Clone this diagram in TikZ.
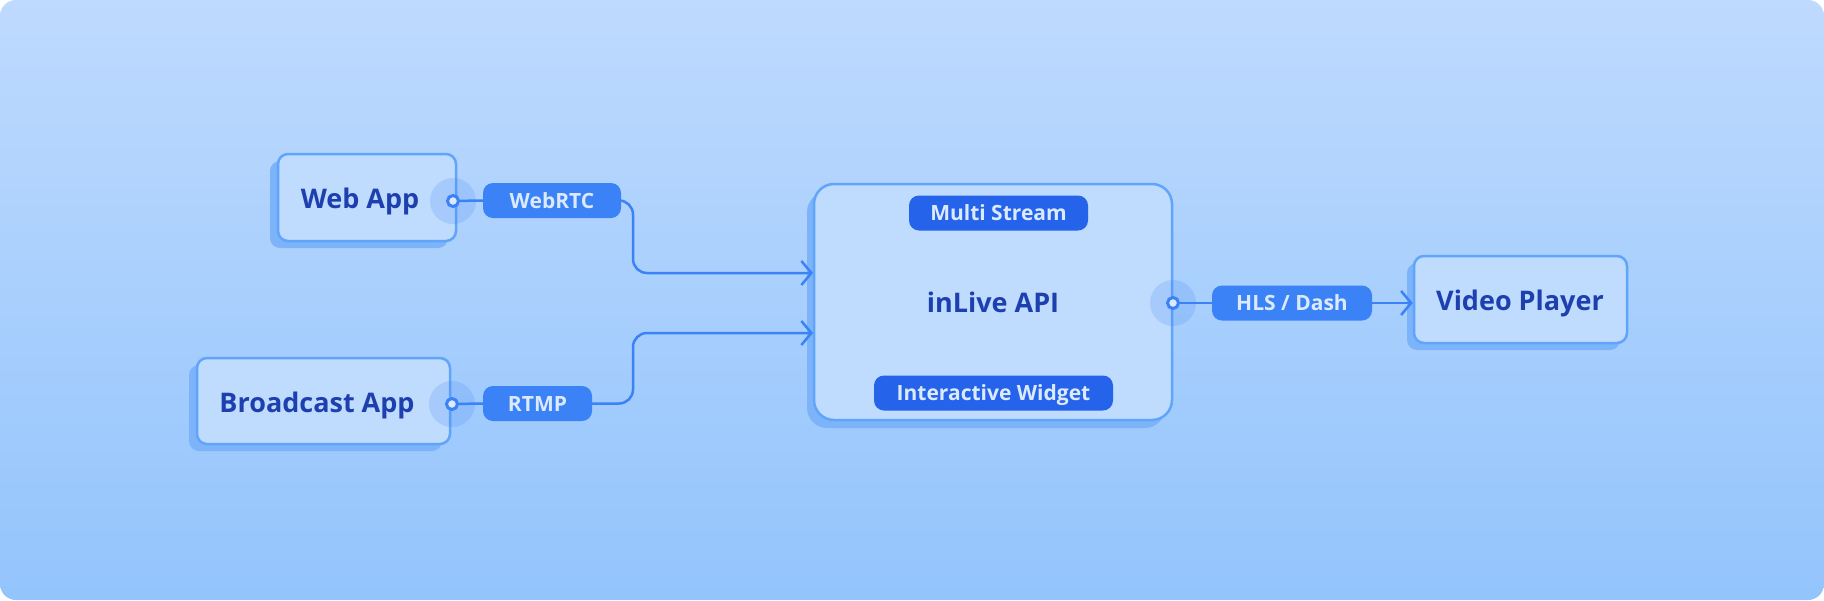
\documentclass[tikz,border=0pt]{standalone}
\usepackage{fontspec}
\setmainfont{Open Sans}
\usetikzlibrary{arrows.meta,calc}
\definecolor{bgtop}{HTML}{BEDAFE}
\definecolor{bgbot}{HTML}{93C4FC}
\definecolor{boxfill}{HTML}{BFDBFE}
\definecolor{boxline}{HTML}{60A5FA}
\definecolor{boxshadow}{HTML}{7CB3F9}
\definecolor{txtdark}{HTML}{1E40AF}
\definecolor{pillA}{HTML}{3B82F6}
\definecolor{pillB}{HTML}{2563EB}
\definecolor{pilltxt}{HTML}{DBEAFE}
\tikzset{
  boxstyle/.style={draw=boxline, line width=2.5pt, fill=boxfill, rounded corners=10pt, inner sep=0pt},
  shadowstyle/.style={fill=boxshadow, rounded corners=10pt, inner sep=0pt},
  labelstyle/.style={text=txtdark, font=\bfseries\fontsize{27}{31}\selectfont, inner sep=0pt, text height=19.3pt, text depth=0pt},
  pillstyle/.style={fill=pillA, rounded corners=10pt, text=pilltxt, font=\bfseries\fontsize{21}{25}\selectfont, minimum height=35pt, inner sep=0pt, text height=15pt, text depth=0pt},
  pilldark/.style={pillstyle, fill=pillB},
  halo/.style={circle, fill=pillA, fill opacity=0.18, minimum size=46pt, inner sep=0pt},
  portstyle/.style={circle, draw=pillA, line width=3pt, fill=pilltxt, minimum size=11pt, inner sep=0pt},
  conn/.style={draw=pillA, line width=2.5pt},
  arr/.style={conn, -{Straight Barb[length=10pt, width=24pt, line width=2.5pt]}},
}
\begin{document}
\begin{tikzpicture}[x=1pt, y=-1pt]
\useasboundingbox (0,0) rectangle (1824,600);
\shade[top color=bgtop, bottom color=bgbot, rounded corners=16pt] (0,0) rectangle (1824,600);

% shadows
\node[shadowstyle, minimum width=178pt, minimum height=87pt] (webappsh) at (359,204.5) {};
\node[shadowstyle, minimum width=253pt, minimum height=86pt] (broadsh) at (315.5,408) {};
\node[shadowstyle, rounded corners=20pt, minimum width=358pt, minimum height=236pt] (apish) at (986,310) {};
\node[shadowstyle, minimum width=213pt, minimum height=87pt] (videosh) at (1513.5,306.5) {};

% boxes
\node[boxstyle, minimum width=178pt, minimum height=87pt] (webapp) at (367,197.5) {};
\node[boxstyle, minimum width=253pt, minimum height=86pt] (broad) at (323.5,401) {};
\node[boxstyle, rounded corners=20pt, minimum width=358pt, minimum height=236pt] (api) at (993,302) {};
\node[boxstyle, minimum width=213pt, minimum height=87pt] (video) at (1520.5,299.5) {};

% labels
\node[labelstyle] (webappt) at (360,198.5) {Web App};
\node[labelstyle] (broadt) at (317,402.5) {Broadcast App};
\node[labelstyle] (apit) at (993,303) {inLive API};
\node[labelstyle] (videot) at (1520,300.5) {Video Player};

% pills
\node[pillstyle, minimum width=138pt] (webrtc) at (552,200.5) {WebRTC};
\node[pillstyle, minimum width=109pt] (rtmp) at (537.5,403.5) {RTMP};
\node[pillstyle, minimum width=160pt] (hls) at (1292,303) {HLS / Dash};
\node[pilldark, minimum width=179pt] (multi) at (998.5,213) {Multi Stream};
\node[pilldark, minimum width=239pt] (widget) at (993.5,393) {Interactive Widget};

% halos
\node[halo] (h1) at (453,201) {};
\node[halo] (h2) at (452,404) {};
\node[halo] (h3) at (1173,303) {};

% connectors
\coordinate (in1) at (813,273);
\coordinate (in2) at (813,333);
\coordinate (j1) at (633,273);
\coordinate (j2) at (633,333);
\draw[conn] (h1.center) -- (webrtc.west);
\draw[conn] (h2.center) -- (rtmp.west);
\draw[conn] (h3.center) -- (hls.west);
\draw[arr, rounded corners=14pt] (webrtc.east) -| (j1) -- (in1);
\draw[arr, rounded corners=14pt] (rtmp.east) -| (j2) -- (in2);
\draw[arr] (hls.east) -- (hls.east -| video.west);

% ports
\node[portstyle] (p1) at (h1) {};
\node[portstyle] (p2) at (h2) {};
\node[portstyle] (p3) at (h3) {};
\end{tikzpicture}
\end{document}
